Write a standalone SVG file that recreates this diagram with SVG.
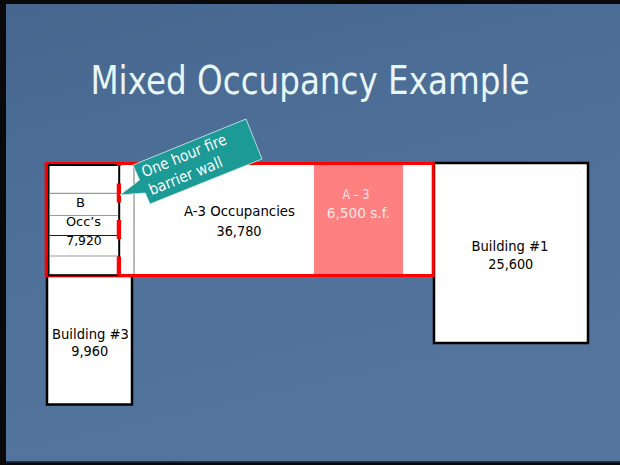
<svg xmlns="http://www.w3.org/2000/svg" width="620" height="465" viewBox="0 0 620 465">
  <defs>
    <linearGradient id="bg" x1="0" y1="0" x2="0.3" y2="1">
      <stop offset="0" stop-color="#46668e"/>
      <stop offset="0.5" stop-color="#4f7199"/>
      <stop offset="1" stop-color="#53749c"/>
    </linearGradient>
    <style>
      .lbl { font-family: "DejaVu Sans", "Noto Sans", sans-serif; font-size: 14px; fill: #000; text-anchor: middle; }
      .sm { font-size: 13px; }
      .pk { fill: #fde8e8; }
      .bld { fill: #ffffff; stroke: #000; stroke-width: 2.5; }
      .row { stroke: #9a9a9a; stroke-width: 1.2; }
      .red { fill: none; stroke: #ff0000; stroke-width: 3; }
    </style>
  </defs>

  <rect x="0" y="0" width="620" height="465" fill="#0a0a0a"/>
  <rect x="6" y="4" width="614" height="458" fill="url(#bg)"/>
  <rect x="6" y="461" width="614" height="1.5" fill="#1e3350"/>

  <g id="title">
    <text x="310" y="94" font-family="DejaVu Sans, Noto Sans, sans-serif" font-size="39" fill="#e8f6f9" text-anchor="middle" textLength="439" lengthAdjust="spacingAndGlyphs">Mixed Occupancy Example</text>
  </g>

  <g id="building-3">
    <rect class="bld" x="47" y="276" width="85" height="128.5"/>
    <text class="lbl" x="90.5" y="338.5" textLength="77" lengthAdjust="spacingAndGlyphs">Building #3</text>
    <text class="lbl" x="89.7" y="356" textLength="37" lengthAdjust="spacingAndGlyphs">9,960</text>
  </g>

  <g id="building-1">
    <rect class="bld" x="434" y="163" width="154" height="180"/>
    <text class="lbl" x="510" y="251" textLength="77" lengthAdjust="spacingAndGlyphs">Building #1</text>
    <text class="lbl" x="510.8" y="269.3" textLength="45" lengthAdjust="spacingAndGlyphs">25,600</text>
  </g>

  <g id="a3-occupancies">
    <rect x="46" y="163.5" width="387" height="112" fill="#ffffff"/>
    <line x1="134" y1="165" x2="134" y2="274" stroke="#8a8a8a" stroke-width="1.2"/>
    <text class="lbl" x="239.5" y="216" textLength="111" lengthAdjust="spacingAndGlyphs">A-3 Occupancies</text>
    <text class="lbl" x="239" y="236" textLength="45" lengthAdjust="spacingAndGlyphs">36,780</text>
  </g>

  <g id="a3-assembly">
    <rect x="314" y="165" width="89" height="109" fill="#ff8080"/>
    <text class="lbl pk" x="356" y="199.3" textLength="27" lengthAdjust="spacingAndGlyphs">A – 3</text>
    <text class="lbl pk" x="358.3" y="218.3" textLength="63" lengthAdjust="spacingAndGlyphs">6,500 s.f.</text>
  </g>

  <g id="mixed-boundary">
    <rect class="red" x="46.2" y="163.5" width="387" height="112"/>
  </g>

  <g id="building-b">
    <rect x="48.5" y="165" width="70.7" height="110.2" fill="#ffffff" stroke="#000" stroke-width="2"/>
    <line class="row" x1="49.5" y1="193.3" x2="118.2" y2="193.3"/>
    <line class="row" x1="49.5" y1="215.5" x2="118.2" y2="215.5"/>
    <line x1="49.5" y1="235.5" x2="118.2" y2="235.5" stroke="#1a1a1a" stroke-width="1.2"/>
    <line class="row" x1="49.5" y1="256" x2="118.2" y2="256"/>
    <text class="lbl sm" x="80.5" y="207.3">B</text>
    <text class="lbl sm" x="83.5" y="226" textLength="35" lengthAdjust="spacingAndGlyphs">Occ’s</text>
    <text class="lbl sm" x="84" y="245" textLength="35.5" lengthAdjust="spacingAndGlyphs">7,920</text>
  </g>

  <g id="fire-barrier">
    <line x1="118.9" y1="275.5" x2="118.9" y2="163" stroke="#ff0000" stroke-width="4.3" stroke-dasharray="19 17.5"/>
  </g>

  <g id="callout">
    <polygon points="133,165 246,119 262,159 150,204 145.2,193 120,195 139.5,180" fill="#1b9a96" stroke="#d8f0ee" stroke-width="0.8" stroke-linejoin="miter"/>
    <g transform="translate(197.75,161.75) rotate(-22)">
      <text x="-55.5" y="-5.5" font-family="DejaVu Sans, Noto Sans, sans-serif" font-size="15.5" fill="#ffffff" textLength="90" lengthAdjust="spacingAndGlyphs">One hour fire</text>
      <text x="-55.5" y="13.8" font-family="DejaVu Sans, Noto Sans, sans-serif" font-size="15.5" fill="#ffffff" textLength="78" lengthAdjust="spacingAndGlyphs">barrier wall</text>
    </g>
  </g>
</svg>
